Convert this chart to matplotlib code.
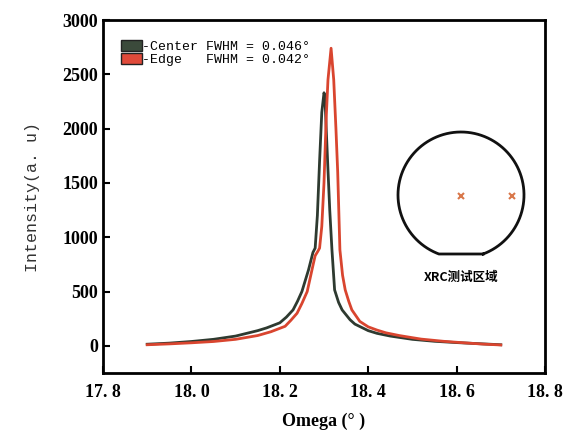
import numpy as np
import matplotlib.pyplot as plt
from matplotlib.patches import Patch

# Omega scan data
center_x = [17.90, 17.95, 18.00, 18.05, 18.10, 18.15, 18.17, 18.20, 18.215, 18.23,
            18.24, 18.25, 18.265, 18.275, 18.28, 18.285, 18.29, 18.295, 18.30, 18.302,
            18.305, 18.309, 18.313, 18.318, 18.324, 18.333, 18.341, 18.359, 18.37, 18.40,
            18.42, 18.45, 18.47, 18.50, 18.55, 18.60, 18.65, 18.70]
center_y = [15, 25, 40, 60, 90, 140, 165, 212, 265, 331,
            410, 500, 700, 860, 900, 1200, 1700, 2150, 2330, 2300,
            2000, 1620, 1250, 883, 515, 400, 331, 240, 200, 140,
            115, 90, 78, 60, 42, 30, 20, 10]

edge_x = [17.90, 17.95, 18.00, 18.05, 18.10, 18.15, 18.18, 18.212, 18.225, 18.239,
          18.25, 18.262, 18.275, 18.28, 18.286, 18.29, 18.295, 18.30, 18.305, 18.309,
          18.316, 18.322, 18.327, 18.331, 18.336, 18.342, 18.348, 18.356, 18.363, 18.381,
          18.40, 18.42, 18.44, 18.47, 18.50, 18.52, 18.57, 18.62, 18.66, 18.70]
edge_y = [10, 18, 28, 40, 60, 95, 130, 180, 235, 300,
          390, 500, 740, 830, 870, 900, 1100, 1500, 2100, 2450,
          2740, 2450, 2000, 1600, 883, 650, 515, 410, 331, 225,
          175, 145, 120, 95, 75, 62, 42, 27, 16, 8]

x_ticks = [17.8, 18.0, 18.2, 18.4, 18.6, 18.8]
x_tick_labels = ["17. 8", "18. 0", "18. 2", "18. 4", "18. 6", "18. 8"]
y_ticks = [0, 500, 1000, 1500, 2000, 2500, 3000]

center_col = '#2e3a30'
edge_col = '#d9452f'

fig = plt.figure(figsize=(5.68, 4.37), dpi=100)
ax = fig.add_axes([103/568, 1-373/437, (545-103)/568, (373-20)/437])

ax.plot(center_x, center_y, color=center_col, lw=2.0)
ax.plot(edge_x, edge_y, color=edge_col, lw=2.0)

ax.set_xlim(17.8, 18.8)
ax.set_ylim(-250, 3000)
ax.set_xticks(x_ticks)
ax.set_xticklabels(x_tick_labels)
ax.set_yticks(y_ticks)
ax.tick_params(direction='in', length=5, width=1.5, top=False, right=False)
ax.tick_params(axis='x', pad=8)
for lab in ax.get_xticklabels() + ax.get_yticklabels():
    lab.set_fontfamily('Liberation Serif')
    lab.set_fontweight('bold')
    lab.set_fontsize(13)
for s in ax.spines.values():
    s.set_linewidth(2)

ax.set_xlabel('Omega (° )', fontfamily='Liberation Serif', fontweight='bold', fontsize=13, labelpad=8)
ax.set_ylabel('Intensity(a. u)', fontfamily='Liberation Mono', fontsize=12, color='#333333', labelpad=16)

handles = [Patch(facecolor='#3b4a3b', edgecolor='#222222'),
           Patch(facecolor='#e04a3a', edgecolor='#222222')]
ax.legend(handles, ['-Center FWHM = 0.046°', '-Edge   FWHM = 0.042°'],
          loc='upper left', bbox_to_anchor=(0.02, 0.97), frameon=False,
          prop={'family': 'Liberation Mono', 'size': 9.5},
          handlelength=1.6, handleheight=0.9, handletextpad=0.0, labelspacing=0.0,
          borderpad=0.2)

# wafer sketch inset
ins = fig.add_axes([391/568, 1-265/437, 140/568, 140/437])
ins.set_xlim(-70, 70)
ins.set_ylim(-70, 70)
ins.axis('off')
r = 63
a0 = np.arcsin(-59 / r)
ang = np.linspace(a0, np.pi - a0, 400)
wx = r*np.cos(ang)
wy = r*np.sin(ang)
ins.plot(np.r_[wx, wx[0]], np.r_[wy, wy[0]], color='#111111', lw=2)
ins.plot([0, 51], [-1, -1], ls='none', marker='x', color='#d9774a', ms=5, mew=1.5)

fig.text(461/568, 1-277/437, 'XRC测试区域', ha='center', va='center',
         family=['Noto Sans CJK SC', 'DejaVu Sans'], fontweight='bold', fontsize=9)

fig.savefig('out.png', dpi=100)
